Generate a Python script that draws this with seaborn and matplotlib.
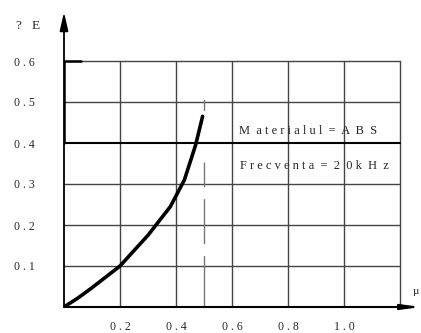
import matplotlib
matplotlib.use("Agg")
import matplotlib.pyplot as plt
import seaborn as sns
import pandas as pd

# curve
mu = [0.0, 0.05, 0.1, 0.2, 0.3, 0.38, 0.43, 0.47, 0.495]
dE = [0.0, 0.022, 0.047, 0.1, 0.175, 0.245, 0.31, 0.395, 0.465]
xticks = [0.2, 0.4, 0.6, 0.8, 1.0]
xlabels = ["0 . 2", "0 . 4", "0 . 6", "0 . 8", "1 . 0"]
yticks = [0.1, 0.2, 0.3, 0.4, 0.5, 0.6]
ylabels = ["0 . 1", "0 . 2", "0 . 3", "0 . 4", "0 . 5", "0 . 6"]
mu_limit = 0.5
material = "M  a t e r i a l u l  =  A  B  S"
freq = "F r e c v e n t a  =  2  0 k  H  z"

df = pd.DataFrame({"mu": mu, "dE": dE})

sns.set_style("white")
plt.rcParams["font.family"] = ["Liberation Serif", "DejaVu Serif"]
plt.rcParams["lines.scale_dashes"] = False

fig = plt.figure(figsize=(4.21, 3.33), dpi=100)
ax = fig.add_axes([64 / 421, 26 / 333, 357 / 421, 295 / 333])
xmax = 357 / 280 * 1.0  # 280 px per unit
ymax = 295 / 410        # 410 px per unit
ax.set_xlim(0, xmax)
ax.set_ylim(0, ymax)
for s in ax.spines.values():
    s.set_visible(False)

grid_c = "#444444"
# grid
for x in [0.2, 0.4, 0.6, 0.8, 1.0, 1.2]:
    ax.plot([x, x], [0, 0.6], color=grid_c, lw=1.0)
for y in [0.1, 0.2, 0.3, 0.5, 0.6]:
    ax.plot([0, 1.2], [y, y], color=grid_c, lw=1.0)
ax.plot([0, 1.2], [0.4, 0.4], color="black", lw=1.5)
ax.plot([0, 0.06], [0.6, 0.6], color="black", lw=1.8)
ax.plot([0, 0], [0.4, 0.6], color="black", lw=1.8)

# dashed limit (px pattern: 45 on, 12 off)
ax.plot([mu_limit, mu_limit], [0, 0.354], color="#777777", lw=1.0,
        dashes=(16, 0, 21, 8.6, 32.4, 8.6, 32.4, 8.6))
ax.plot([mu_limit, mu_limit], [0.48, 0.505], color="#777777", lw=1.0)

# axes with arrows
ax.annotate("", xy=(0, ymax), xytext=(0, 0),
            arrowprops=dict(arrowstyle="-|>,head_width=0.25,head_length=1.1",
                            color="black", lw=1.3, shrinkA=0, shrinkB=0))
ax.annotate("", xy=(xmax, 0), xytext=(0, 0),
            arrowprops=dict(arrowstyle="-|>,head_width=0.15,head_length=1.1",
                            color="black", lw=1.5, shrinkA=0, shrinkB=0))

sns.lineplot(data=df, x="mu", y="dE", ax=ax, color="black", lw=2.6)

ax.set_xticks(xticks)
ax.set_xticklabels(xlabels, fontsize=8.5)
ax.set_yticks(yticks)
ax.set_yticklabels(ylabels, fontsize=8.5)
ax.tick_params(length=0, pad=10)
ax.tick_params(axis="y", pad=21)
ax.set_xlabel("")
ax.set_ylabel("")

ax.text(-0.13, 0.685, "?   E", fontsize=9.5, ha="center", va="center")
ax.text(1.245, 0.037, "µ", fontsize=8, ha="left", va="center")
ax.text(0.625, 0.43, material, fontsize=9, ha="left", va="center")
ax.text(0.63, 0.345, freq, fontsize=9, ha="left", va="center")

fig.savefig("out.png", dpi=100)
